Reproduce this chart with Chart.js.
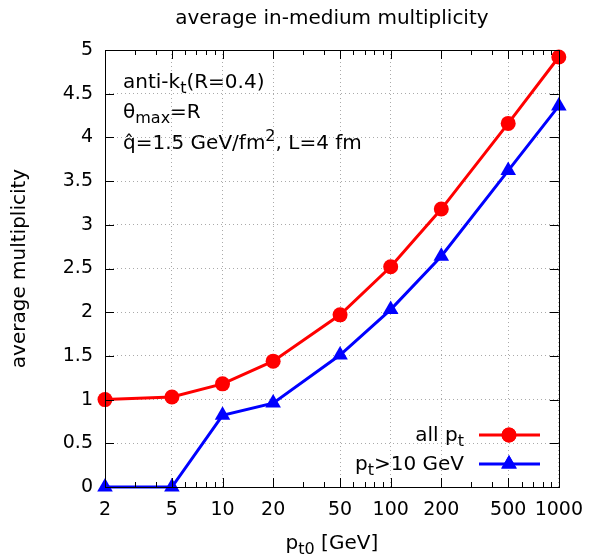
<!DOCTYPE html>
<html>
<head>
<meta charset="utf-8">
<script src="https://cdn.jsdelivr.net/npm/chart.js@4/dist/chart.umd.min.js"></script>
<style>
  html, body { margin: 0; padding: 0; background: #fff; }
  #wrap { width: 595px; height: 558px; }
</style>
</head>
<body>
<div id="wrap"><canvas id="c"></canvas></div>
<script>
// data
const ptValues = [2, 5, 10, 20, 50, 100, 200, 500, 1000];
const allPt = [1.0, 1.03, 1.18, 1.44, 1.97, 2.52, 3.18, 4.16, 4.92];
const ptAbove10 = [0, 0, 0.82, 0.96, 1.51, 2.03, 2.64, 3.62, 4.36];
const xTicks = [2, 5, 10, 20, 50, 100, 200, 500, 1000];
const xMinorTicks = [3, 4, 6, 7, 8, 9, 30, 40, 60, 70, 80, 90, 300, 400, 600, 700, 800, 900];

const FONT = 'DejaVu Sans';
const FS = 20;
const TICK_FS = 19;

// draw text with sub/superscripts: parts = [[text, 'n'|'sub'|'sup'], ...]
function richText(ctx, parts, x, y, align) {
  const fontFor = p => (p[1] === 'n' ? FS : Math.round(FS * 0.78)) + 'px ' + FONT;
  const widths = parts.map(p => {
    ctx.font = fontFor(p);
    return ctx.measureText(p[0]).width;
  });
  const total = widths.reduce((a, b) => a + b, 0);
  let cx = align === 'right' ? x - total : align === 'center' ? x - total / 2 : x;
  ctx.textAlign = 'left';
  ctx.textBaseline = 'alphabetic';
  parts.forEach((p, i) => {
    ctx.font = fontFor(p);
    const dy = p[1] === 'sub' ? 5 : p[1] === 'sup' ? -8 : 0;
    ctx.fillText(p[0], cx, y + dy);
    cx += widths[i];
  });
}

const decor = {
  id: 'decor',
  afterDraw(chart) {
    const ctx = chart.ctx;
    const a = chart.chartArea;
    const xs = chart.scales.x, ys = chart.scales.y;
    ctx.save();
    ctx.strokeStyle = '#000';
    ctx.lineWidth = 1;
    // inward ticks on all four sides
    ctx.beginPath();
    xTicks.forEach(v => {
      const px = Math.round(xs.getPixelForValue(v)) + 0.5;
      ctx.moveTo(px, a.bottom); ctx.lineTo(px, a.bottom - 9);
      ctx.moveTo(px, a.top); ctx.lineTo(px, a.top + 9);
    });
    xMinorTicks.forEach(v => {
      const px = Math.round(xs.getPixelForValue(v)) + 0.5;
      ctx.moveTo(px, a.bottom); ctx.lineTo(px, a.bottom - 5);
      ctx.moveTo(px, a.top); ctx.lineTo(px, a.top + 5);
    });
    ys.ticks.forEach(t => {
      const py = Math.round(ys.getPixelForValue(t.value)) + 0.5;
      ctx.moveTo(a.left, py); ctx.lineTo(a.left + 9, py);
      ctx.moveTo(a.right, py); ctx.lineTo(a.right - 9, py);
    });
    ctx.stroke();
    // frame
    ctx.strokeRect(Math.round(a.left) + 0.5, Math.round(a.top) + 0.5,
      Math.round(a.right - a.left), Math.round(a.bottom - a.top));

    ctx.fillStyle = '#000';
    // title
    richText(ctx, [['average in-medium multiplicity', 'n']], (a.left + a.right) / 2, 24, 'center');
    // x title
    richText(ctx, [['p', 'n'], ['t0', 'sub'], [' [GeV]', 'n']], (a.left + a.right) / 2, 549, 'center');
    // y title
    ctx.save();
    ctx.translate(25, (a.top + a.bottom) / 2);
    ctx.rotate(-Math.PI / 2);
    richText(ctx, [['average multiplicity', 'n']], 0, 0, 'center');
    ctx.restore();

    // labels
    richText(ctx, [['anti-k', 'n'], ['t', 'sub'], ['(R=0.4)', 'n']], a.left + 18, 88, 'left');
    richText(ctx, [['\u03b8', 'n'], ['max', 'sub'], ['=R', 'n']], a.left + 18, 118, 'left');
    richText(ctx, [['q\u0302=1.5 GeV/fm', 'n'], ['2', 'sup'], [', L=4 fm', 'n']], a.left + 18, 149, 'left');

    // legend
    const legend = [
      { parts: [['all p', 'n'], ['t', 'sub']], color: '#ff0000', style: 'circle', y: 435 },
      { parts: [['p', 'n'], ['t', 'sub'], ['>10 GeV', 'n']], color: '#0000ff', style: 'triangle', y: 464 }
    ];
    legend.forEach(l => {
      ctx.fillStyle = '#000';
      richText(ctx, l.parts, 464, l.y + 6, 'right');
      ctx.strokeStyle = l.color;
      ctx.lineWidth = 3;
      ctx.beginPath();
      ctx.moveTo(479, l.y); ctx.lineTo(540, l.y);
      ctx.stroke();
      ctx.fillStyle = l.color;
      Chart.helpers.drawPoint(ctx, { pointStyle: l.style, radius: l.style === 'circle' ? 7.5 : 9, rotation: 0, borderWidth: 0 }, 509, l.y);
      ctx.fill();
    });
    ctx.restore();
  }
};

new Chart(document.getElementById('c'), {
  type: 'line',
  data: {
    datasets: [
      {
        label: 'all pt',
        data: ptValues.map((x, i) => ({ x, y: allPt[i] })),
        borderColor: '#ff0000',
        backgroundColor: '#ff0000',
        borderWidth: 3,
        pointStyle: 'circle',
        pointRadius: 7.5,
        pointBorderWidth: 0,
        clip: false
      },
      {
        label: 'pt>10 GeV',
        data: ptValues.map((x, i) => ({ x, y: ptAbove10[i] })),
        borderColor: '#0000ff',
        backgroundColor: '#0000ff',
        borderWidth: 3,
        pointStyle: 'triangle',
        pointRadius: 9,
        pointBorderWidth: 0,
        clip: false
      }
    ]
  },
  options: {
    responsive: true,
    maintainAspectRatio: false,
    animation: false,
    layout: { padding: { left: 0, top: 50, right: 30, bottom: 0 } },
    plugins: { legend: { display: false }, tooltip: { enabled: false }, title: { display: false } },
    scales: {
      x: {
        type: 'logarithmic',
        min: 2,
        max: 1000,
        afterBuildTicks: s => { s.ticks = xTicks.map(v => ({ value: v })); },
        afterFit: s => { s.height = 71; },
        ticks: {
          font: { family: FONT, size: TICK_FS },
          color: '#000',
          padding: 12,
          maxRotation: 0,
          autoSkip: false,
          callback: v => String(v)
        },
        grid: { color: '#aaaaaa', lineWidth: 1, drawTicks: false },
        border: { display: false, dash: [1, 3] }
      },
      y: {
        min: 0,
        max: 5,
        afterFit: s => { s.width = 105; },
        ticks: {
          stepSize: 0.5,
          font: { family: FONT, size: TICK_FS },
          color: '#000',
          padding: 12,
          callback: v => String(v)
        },
        grid: { color: '#aaaaaa', lineWidth: 1, drawTicks: false },
        border: { display: false, dash: [1, 3] }
      }
    }
  },
  plugins: [decor]
});
</script>
</body>
</html>
